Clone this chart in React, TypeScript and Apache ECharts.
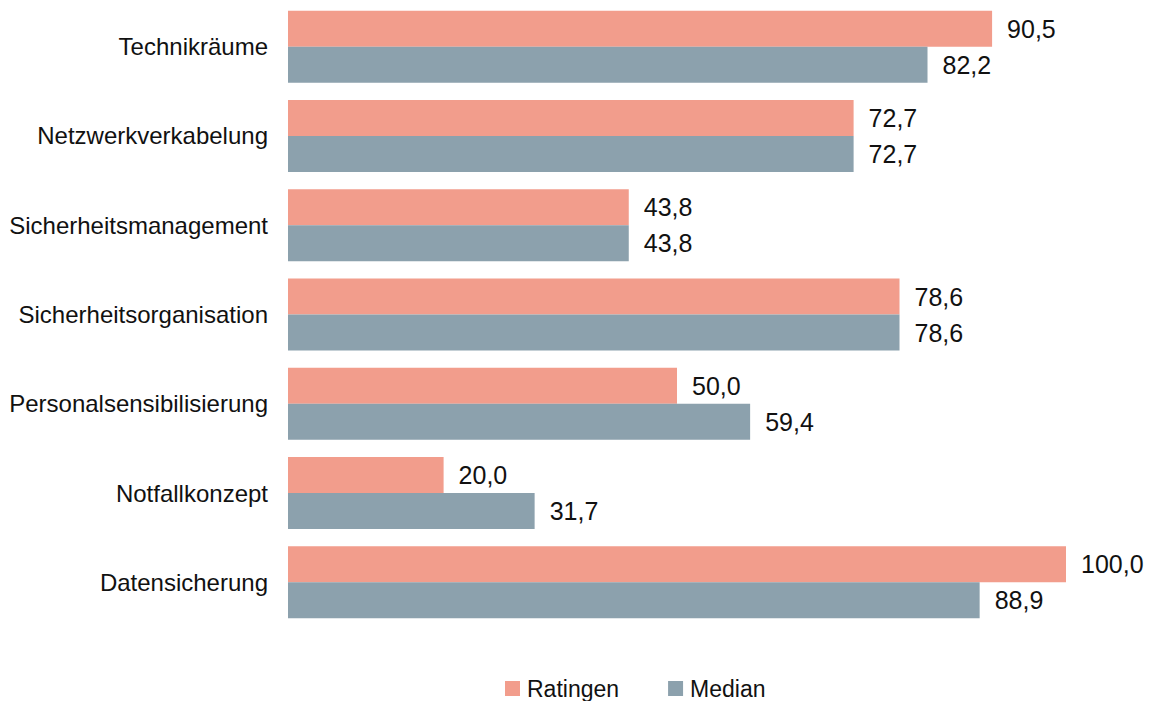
import React, { useEffect, useRef } from "react";
import * as echarts from "echarts";

const categories = [
  "Technikräume",
  "Netzwerkverkabelung",
  "Sicherheitsmanagement",
  "Sicherheitsorganisation",
  "Personalsensibilisierung",
  "Notfallkonzept",
  "Datensicherung",
];
const ratingen = [90.5, 72.7, 43.8, 78.6, 50.0, 20.0, 100.0];
const median = [82.2, 72.7, 43.8, 78.6, 59.4, 31.7, 88.9];

const FONT = "'Liberation Sans', Arial, sans-serif";
const fmt = (v: number) => v.toFixed(1).replace(".", ",");

export default function App() {
  const ref = useRef<HTMLDivElement>(null);
  useEffect(() => {
    if (!ref.current) return;
    const chart = echarts.init(ref.current, undefined, { renderer: "svg" });
    const label = {
      show: true,
      position: "right" as const,
      distance: 15,
      fontSize: 25,
      fontFamily: FONT,
      color: "#111",
      formatter: (p: any) => fmt(p.value),
    };
    chart.setOption({
      animation: false,
      backgroundColor: "#fff",
      grid: { left: 288, right: 95, top: 2, bottom: 74, containLabel: false },
      legend: {
        left: 500,
        top: 672,
        itemWidth: 15,
        itemHeight: 15,
        itemGap: 49,
        icon: "rect",
        textStyle: { fontSize: 23, fontFamily: FONT, color: "#111", padding: [0, 0, 0, 2] },
        data: ["Ratingen", "Median"],
      },
      xAxis: {
        type: "value",
        min: 0,
        max: 100,
        show: false,
        splitLine: { show: false },
      },
      yAxis: {
        type: "category",
        data: categories,
        inverse: true,
        axisLine: { show: false },
        axisTick: { show: false },
        axisLabel: { fontSize: 24, fontFamily: FONT, color: "#111", margin: 20 },
      },
      series: [
        {
          name: "Ratingen",
          type: "bar",
          data: ratingen,
          barWidth: 36,
          barGap: "0%",
          itemStyle: { color: "#F29D8C" },
          label,
        },
        {
          name: "Median",
          type: "bar",
          data: median,
          barWidth: 36,
          barGap: "0%",
          itemStyle: { color: "#8CA1AD" },
          label,
        },
      ],
    });
    return () => chart.dispose();
  }, []);
  return (
    <div
      ref={ref}
      style={{ position: "absolute", left: 0, top: 0, width: 1161, height: 701 }}
    />
  );
}
